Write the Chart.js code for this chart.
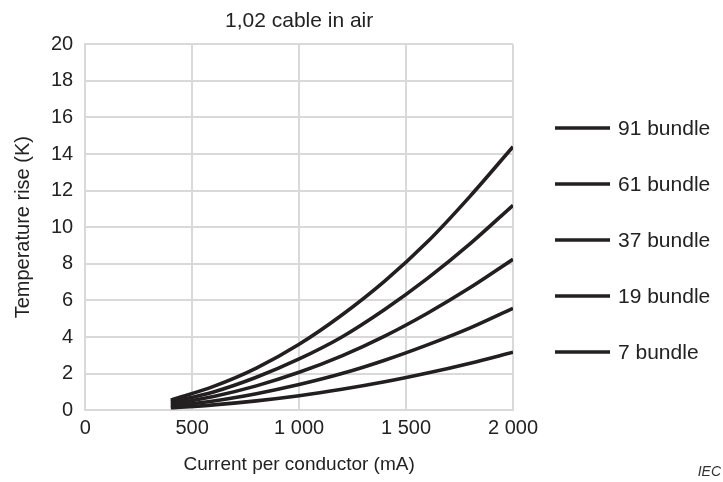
<!DOCTYPE html>
<html>
<head>
<meta charset="utf-8">
<script src="https://cdn.jsdelivr.net/npm/chart.js@4"></script>
<style>
  html,body{margin:0;padding:0;background:#fff;}
  #wrap{width:723px;height:482px;position:relative;}
</style>
</head>
<body>
<div id="wrap"><canvas id="c" width="723" height="482"></canvas></div>
<script>
// current per conductor (mA)
const currents = [400, 600, 800, 1000, 1200, 1400, 1600, 1800, 2000];
// temperature rise (K)
const rise91 = [0.55, 1.3, 2.3, 3.6, 5.2, 7.05, 9.2, 11.7, 14.4];
const rise61 = [0.45, 1.0, 1.8, 2.8, 4.0, 5.5, 7.2, 9.1, 11.2];
const rise37 = [0.33, 0.75, 1.33, 2.07, 2.97, 4.05, 5.3, 6.7, 8.25];
const rise19 = [0.22, 0.5, 0.9, 1.4, 2.0, 2.73, 3.57, 4.5, 5.57];
const rise7  = [0.13, 0.29, 0.51, 0.79, 1.14, 1.55, 2.03, 2.57, 3.17];
const seriesLabels = ['91 bundle', '61 bundle', '37 bundle', '19 bundle', '7 bundle'];
const xTicks = [0, 500, 1000, 1500, 2000];
const xTickLabels = ['0', '500', '1 000', '1 500', '2 000'];

const FONT = '"Liberation Sans", Arial, sans-serif';
const INK = '#231f20';
const TXT = '#222';

function pts(ys){ return currents.map((x,i)=>({x:x, y:ys[i]})); }

const allSeries = [rise91, rise61, rise37, rise19, rise7];
const datasets = allSeries.map((s,i)=>({
  label: seriesLabels[i],
  data: pts(s),
  borderColor: INK,
  backgroundColor: INK,
  borderWidth: 3.6,
  borderCapStyle: 'butt',
  pointRadius: 0,
  cubicInterpolationMode: 'monotone',
  fill: false
}));

// legend drawn by hand so the spacing matches the figure
const sideLegend = {
  id: 'sideLegend',
  afterDraw(chart){
    const ctx = chart.ctx;
    ctx.save();
    ctx.font = '21px ' + FONT;
    ctx.textBaseline = 'middle';
    chart.data.datasets.forEach((d,i)=>{
      const y = 128 + i*56;
      ctx.strokeStyle = d.borderColor;
      ctx.lineWidth = 3.6;
      ctx.beginPath(); ctx.moveTo(555, y); ctx.lineTo(610, y); ctx.stroke();
      ctx.fillStyle = TXT;
      ctx.fillText(d.label, 618, y + 1);
    });
    ctx.font = 'italic 14px ' + FONT;
    ctx.fillStyle = '#333';
    ctx.textAlign = 'right';
    ctx.fillText('IEC', 721, 472);
    ctx.restore();
  }
};

new Chart(document.getElementById('c'), {
  type: 'line',
  data: { datasets },
  plugins: [sideLegend],
  options: {
    responsive: false,
    animation: false,
    layout: { padding: { left: 11, right: 210, top: 9, bottom: 6 } },
    plugins: {
      legend: { display: false },
      title: {
        display: true,
        fullSize: false,
        text: '1,02 cable in air',
        color: TXT,
        font: { family: FONT, size: 21, weight: 'normal' },
        padding: { top: 0, bottom: 10 }
      },
      tooltip: { enabled: false }
    },
    scales: {
      x: {
        type: 'linear',
        min: 0, max: 2000,
        afterBuildTicks(axis){ axis.ticks = xTicks.map(v=>({value:v})); },
        ticks: {
          color: TXT,
          font: { family: FONT, size: 20 },
          padding: 6,
          callback(v){ const i = xTicks.indexOf(v); return i >= 0 ? xTickLabels[i] : ''; }
        },
        grid: { color: '#d9d9d9', lineWidth: 2, drawTicks: false },
        border: { color: '#d9d9d9', width: 2 },
        title: {
          display: true, text: 'Current per conductor (mA)', color: TXT,
          font: { family: FONT, size: 19 }, padding: { top: 7, bottom: 0 }
        }
      },
      y: {
        min: 0, max: 20,
        ticks: {
          stepSize: 2, color: TXT,
          font: { family: FONT, size: 20 }, padding: 12
        },
        grid: { color: '#d9d9d9', lineWidth: 2, drawTicks: false },
        border: { color: '#d9d9d9', width: 2 },
        title: {
          display: true, text: 'Temperature rise (K)', color: TXT,
          font: { family: FONT, size: 20 }, padding: { top: 0, bottom: 4 }
        }
      }
    }
  }
});
</script>
</body>
</html>
